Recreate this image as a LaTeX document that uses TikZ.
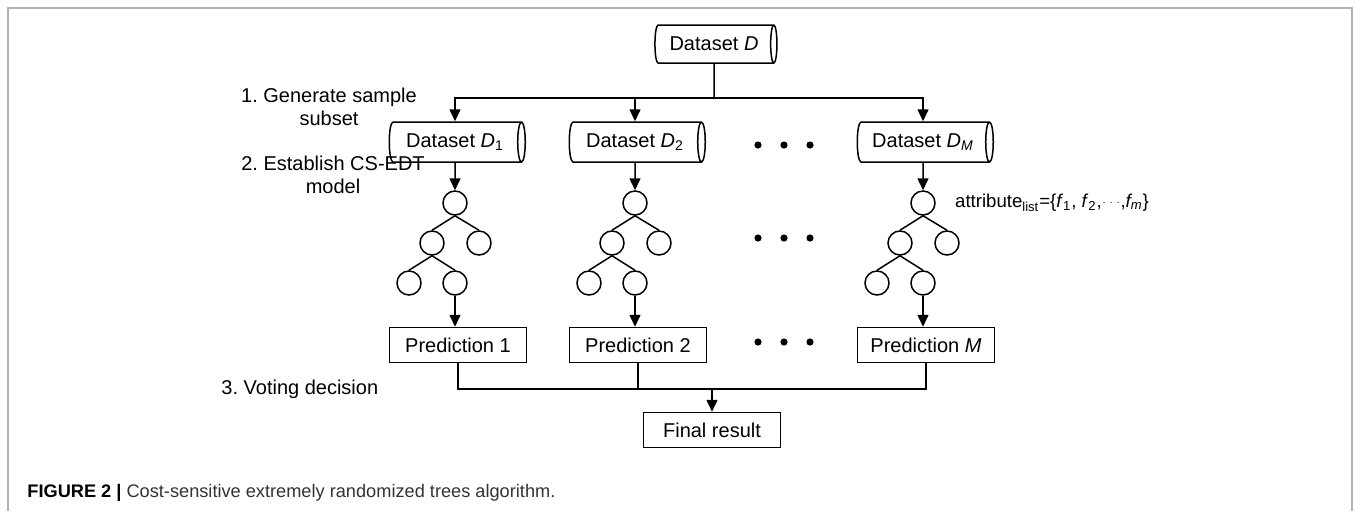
\documentclass[tikz,border=0pt]{standalone}
\usepackage{fontspec}
\setmainfont{Liberation Sans}
\usetikzlibrary{shapes.geometric, arrows.meta, positioning}

\begin{document}
\begin{tikzpicture}[x=0.5pt, y=-0.5pt, line width=0.75pt,
    font=\fontsize{10}{11.5}\selectfont,
    dataset/.style={cylinder, draw, shape aspect=0.45, minimum height=68pt, minimum width=20pt, inner sep=0pt},
    leaf/.style={circle, draw, minimum size=12pt, inner sep=0pt},
    result/.style={rectangle, draw, minimum width=68.5pt, minimum height=17.5pt, inner sep=0pt},
    arr/.style={-{Triangle[length=6pt, width=5.5pt]}}]
    \useasboundingbox (0,0) rectangle (1356,511);

    % Frame of the figure
    \draw[gray!60, line width=1pt] (8,511) -- (8,8) -- (1352,8) -- (1352,511);

    % Source dataset and the split line
    \node[dataset, minimum height=61pt, minimum width=19pt] (d) at (714,44) {Dataset \textit{D}};
    \coordinate (split) at (714,98);
    \draw (d) -- (split);

    % One column per sample subset
    \foreach \c/\n/\s in {455/1/1, 635/2/2, 923/M/\textit{M}} {
        \node[dataset] (d\n) at (\c,142) {Dataset \textit{D}\textsubscript{\s}};
        \draw[arr] (split) -| (d\n);
        \node[leaf] (root\n) at (\c,203) {};
        \node[leaf] (left\n) at ({\c-23},243) {};
        \node[leaf] (right\n) at ({\c+24},243) {};
        \node[leaf] (leafa\n) at ({\c-46},283) {};
        \node[leaf] (leafb\n) at (\c,283) {};
        \draw[arr] (d\n) -- (root\n);
        \draw (root\n.south) -- (left\n.north) (root\n.south) -- (right\n.north)
              (left\n.south) -- (leafa\n.north) (left\n.south) -- (leafb\n.north);
        \node[result] (p\n) at ({\c+3},345) {Prediction \s};
        \draw[arr] (leafb\n.south) -- (leafb\n.south |- p\n.north);
    }

    % Dots between the columns
    \foreach \y in {145, 238, 342}
        \foreach \x in {758, 784, 810}
            \fill (\x,\y) circle (1.8pt);

    % Voting
    \coordinate (vote) at (712,389);
    \node[result] (final) at (712,430) {Final result};
    \draw (p1) |- (vote) -| (pM);
    \draw (p2) -- (p2 |- vote);
    \draw[arr] (vote) -- (final);

    % Labels
    \node[align=center] (step1) at (329,107) {1.\ Generate sample\\subset};
    \node[align=center] (step2) at (333,175) {2.\ Establish CS-EDT\\model};
    \node[anchor=west] (step3) at (214,389) {3.\ Voting decision};
    \node[right=6pt of rootM, font=\fontsize{9.3}{11}\selectfont] (attr) {attribute\textsubscript{list}=\{\textit{f}\textsubscript{1}, \textit{f}\textsubscript{2},{\fontsize{5}{5}\selectfont\raisebox{0.5ex}{$\cdots$}},\textit{f\textsubscript{m}}\}};
    \node[anchor=west, font=\fontsize{9.1}{11}\selectfont] (caption) at (20,493)
        {\textbf{FIGURE 2 |} \textcolor{black!80}{Cost-sensitive extremely randomized trees algorithm.}};
\end{tikzpicture}
\end{document}
